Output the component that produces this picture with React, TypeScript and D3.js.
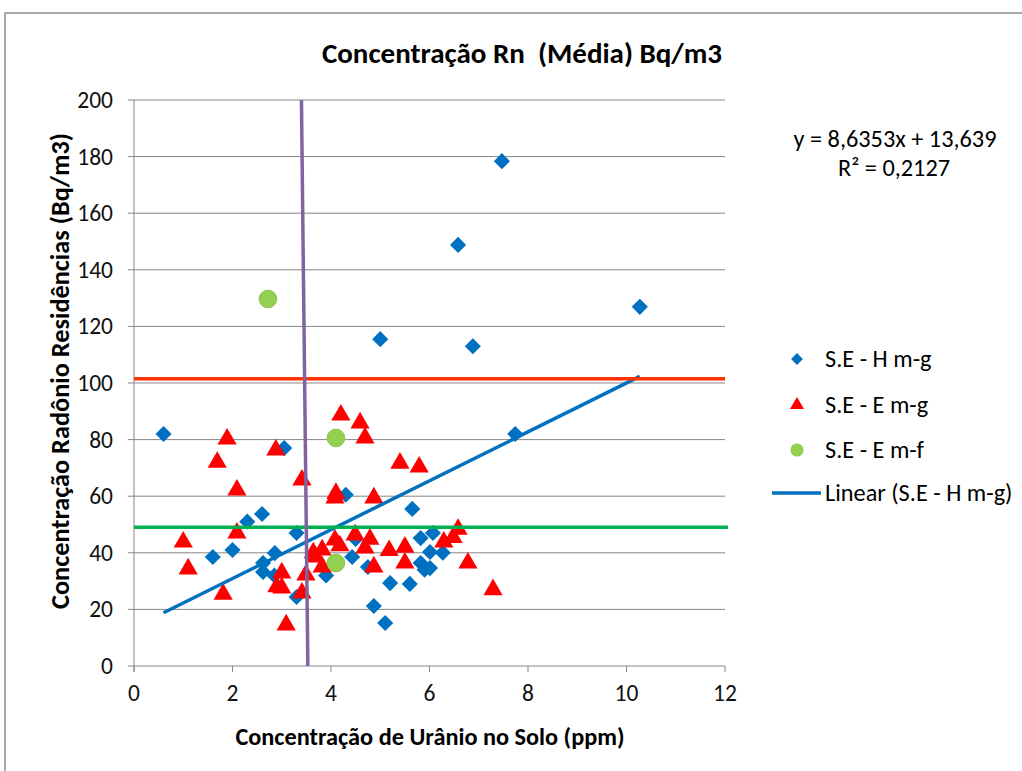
import React from "react";
import * as d3 from "d3";

const title = "Concentração Rn  (Média) Bq/m3";
const xTitle = "Concentração de Urânio no Solo (ppm)";
const yTitle = "Concentração Radônio Residências (Bq/m3)";
const xTicks = [0, 2, 4, 6, 8, 10, 12];
const yTicks = [0, 20, 40, 60, 80, 100, 120, 140, 160, 180, 200];

// S.E - H m-g (blue diamonds)
const hmgX = [0.6, 1.6, 2.0, 2.3, 2.6, 2.62, 2.62, 2.86, 2.85, 3.05, 3.3, 3.3, 3.9, 4.3, 4.43, 4.5, 4.75, 4.87, 5.0, 5.1, 5.2, 5.6, 5.65, 5.82, 5.82, 5.9, 6.01, 6.01, 6.07, 6.27, 6.58, 6.88, 7.47, 7.74, 10.27];
const hmgY = [82, 38.5, 41, 51, 53.7, 36.4, 33.2, 39.9, 32, 77, 47, 24.4, 32, 60.5, 38.5, 44.9, 35, 21.2, 115.5, 15.2, 29.3, 29, 55.5, 45.2, 36.4, 34, 40.3, 34.6, 47, 40, 148.8, 113, 178.4, 82, 126.9];

// S.E - E m-g (red triangles)
const emgX = [1.0, 1.1, 1.69, 1.81, 1.89, 2.09, 2.09, 2.88, 2.9, 3.0, 3.0, 3.09, 3.41, 3.41, 3.49, 3.64, 3.68, 3.82, 3.82, 4.08, 4.1, 4.08, 4.18, 4.2, 4.49, 4.59, 4.69, 4.69, 4.79, 4.87, 4.87, 5.18, 5.4, 5.5, 5.5, 5.79, 6.29, 6.48, 6.58, 6.78, 7.29];
const emgY = [43.8, 34.3, 72, 25.4, 80.2, 62.2, 47, 76.3, 28, 32.9, 27.6, 14.5, 65.7, 25.8, 32.2, 40, 38.5, 41, 35, 59.4, 61, 44.5, 42.5, 88.7, 46.3, 85.9, 80.6, 41.7, 44.8, 59.4, 35, 40.8, 71.7, 42, 36.4, 70.3, 43.8, 45.4, 48.3, 36.4, 27];

// S.E - E m-f (green circles)
const emfX = [2.72, 4.1, 4.1];
const emfY = [129.7, 80.6, 36.4];

// Trend line of S.E - H m-g
const trendSlope = 8.6353;
const trendIntercept = 13.639;
const equationText = "y = 8,6353x + 13,639";
const r2Text = "R² = 0,2127";

// Reference lines
const redLineY = 101.5;
const greenLineY = 49;
const purpleLineX = [3.4, 3.53];
const purpleLineY = [200, 0];

const legendItems = ["S.E - H m-g", "S.E - E m-g", "S.E - E m-f", "Linear (S.E - H m-g)"];

const BLUE = "#0070C0";
const RED = "#FF0000";
const GREEN_DOT = "#92D050";
const FONT = "Carlito, Calibri, 'Liberation Sans Narrow', 'Liberation Sans', sans-serif";

export default function App() {
  const W = 1022, H = 771;
  const x = d3.scaleLinear().domain([0, 12]).range([134, 725]);
  const y = d3.scaleLinear().domain([0, 200]).range([666, 100]);

  const diamond = d3.symbol(d3.symbolSquare, 130)();
  const triangle = d3.symbol(d3.symbolTriangle, 160)();
  const circle = d3.symbol(d3.symbolCircle, 245)();
  const diamondL = d3.symbol(d3.symbolSquare, 70)();
  const triangleL = d3.symbol(d3.symbolTriangle, 85)();
  const circleL = d3.symbol(d3.symbolCircle, 135)();

  const xmin = d3.min(hmgX)!, xmax = d3.max(hmgX)!;
  const line = d3.line<number>().x(d => x(d)).y(d => y(trendSlope * d + trendIntercept));
  const purple = d3.line<number>().x((_, i) => x(purpleLineX[i])).y(d => y(d));

  const grid = "#868686";
  const legendY = [359, 405, 450, 493];
  return (
    <svg width={W} height={H} style={{ display: "block", position: "absolute", left: 0, top: 0 }}>
      <rect x={0} y={0} width={W} height={H} fill="#fff" />
      <rect x={5} y={13} width={1100} height={900} fill="#fff" stroke="#8c8c8c" strokeWidth={1.5} />
      <text x={522} y={63} textAnchor="middle" fontFamily={FONT} fontWeight="bold" fontSize={29} fill="#000" style={{ whiteSpace: "pre" }}>{title}</text>

      {yTicks.map(t => (
        <g key={"y" + t}>
          <line x1={128} x2={725} y1={y(t)} y2={y(t)} stroke={grid} strokeWidth={1} />
          <text x={113} y={y(t) + 8} textAnchor="end" fontFamily={FONT} fontSize={23.5} fill="#111">{t}</text>
        </g>
      ))}
      <line x1={x(0)} x2={x(0)} y1={y(200)} y2={y(0) + 6} stroke={grid} strokeWidth={1} />
      {xTicks.map(t => (
        <g key={"x" + t}>
          <line x1={x(t)} x2={x(t)} y1={y(0)} y2={y(0) + 6} stroke={grid} strokeWidth={1} />
          <text x={x(t)} y={701} textAnchor="middle" fontFamily={FONT} fontSize={23.5} fill="#111">{t}</text>
        </g>
      ))}

      <text x={430} y={745} textAnchor="middle" fontFamily={FONT} fontWeight="bold" fontSize={24.3} fill="#000">{xTitle}</text>
      <text transform={`translate(69,371) rotate(-90)`} textAnchor="middle" fontFamily={FONT} fontWeight="bold" fontSize={26.3} fill="#000">{yTitle}</text>

      {hmgX.map((v, i) => (
        <path key={"h" + i} d={diamond} transform={`translate(${x(v)},${y(hmgY[i])}) rotate(45)`} fill={BLUE} />
      ))}
      {emgX.map((v, i) => (
        <path key={"e" + i} d={triangle} transform={`translate(${x(v)},${y(emgY[i])})`} fill={RED} />
      ))}
      {emfX.map((v, i) => (
        <path key={"f" + i} d={circle} transform={`translate(${x(v)},${y(emfY[i])})`} fill={GREEN_DOT} stroke="#8fbf50" strokeWidth={1} />
      ))}

      <path d={line([xmin, xmax])!} stroke={BLUE} strokeWidth={3.5} fill="none" />
      <line x1={x(0)} x2={x(12)} y1={y(redLineY)} y2={y(redLineY)} stroke="#FF3300" strokeWidth={3.5} />
      <line x1={x(0)} x2={x(12) + 3} y1={y(greenLineY)} y2={y(greenLineY)} stroke="#00B050" strokeWidth={3.5} />
      <path d={purple(purpleLineY)!} stroke="#8064A2" strokeWidth={3.5} fill="none" />

      <text x={895} y={147} textAnchor="middle" fontFamily={FONT} fontSize={24.3} fill="#000">{equationText}</text>
      <text x={894} y={176} textAnchor="middle" fontFamily={FONT} fontSize={24.3} fill="#000">{r2Text}</text>

      <path d={diamondL} transform={`translate(797,${legendY[0]}) rotate(45)`} fill={BLUE} />
      <path d={triangleL} transform={`translate(797,${legendY[1]})`} fill={RED} />
      <path d={circleL} transform={`translate(797,${legendY[2]})`} fill={GREEN_DOT} />
      <line x1={772} x2={821} y1={legendY[3]} y2={legendY[3]} stroke={BLUE} strokeWidth={3.5} />
      {legendItems.map((t, i) => (
        <text key={t} x={825} y={legendY[i] + 8} fontFamily={FONT} fontSize={24.3} fill="#000">{t}</text>
      ))}
    </svg>
  );
}
